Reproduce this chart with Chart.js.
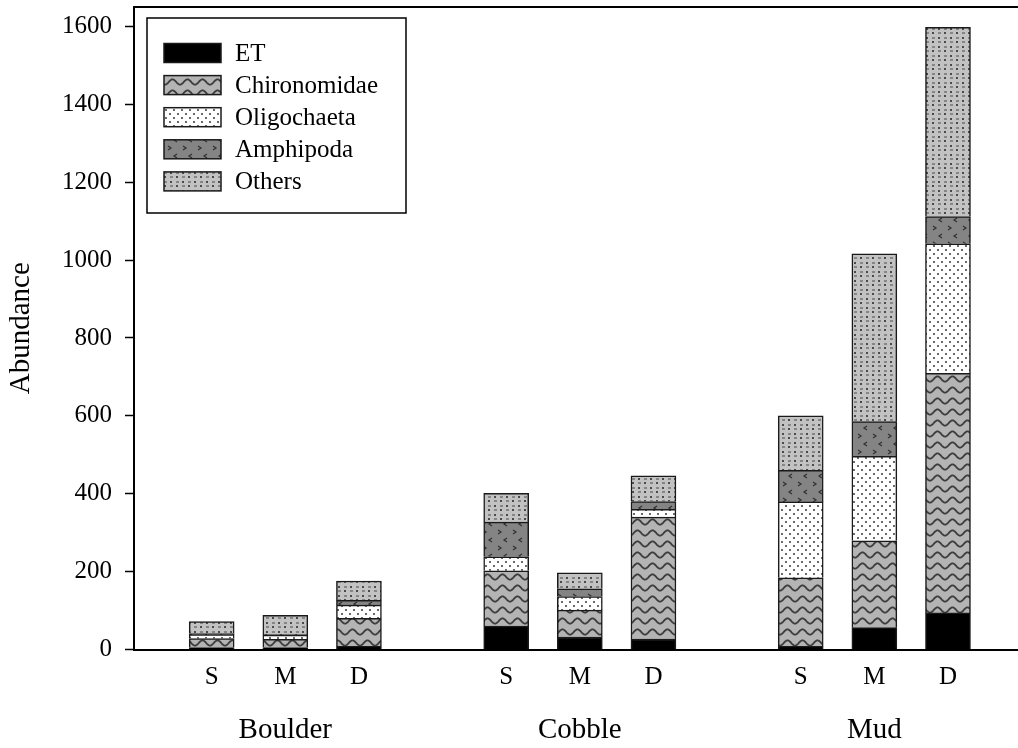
<!DOCTYPE html>
<html>
<head>
    <script src="https://cdn.jsdelivr.net/npm/chart.js@4.4.1/dist/chart.umd.min.js"></script>
    <title>Abundance by habitat and depth</title>
    <style>
        body { margin: 0; background: #fff; }
    </style>
</head>
<body>
    <canvas id="abundance" width="1018" height="748"></canvas>
    <script>
        // order in each series: Boulder S, M, D, Cobble S, M, D, Mud S, M, D
        const habitats = ['Boulder', 'Cobble', 'Mud'];
        const sites = ['S', 'M', 'D'];
        const taxa = ['ET', 'Chironomidae', 'Oligochaeta', 'Amphipoda', 'Others'];
        const et = [5, 5, 8, 60, 32, 27, 8, 56, 94];
        const chironomidae = [23, 21, 72, 142, 69, 313, 176, 223, 615];
        const oligochaeta = [10, 11, 34, 36, 35, 20, 195, 217, 333];
        const amphipoda = [3, 2, 12, 89, 20, 20, 81, 89, 70];
        const others = [31, 49, 50, 74, 41, 66, 140, 431, 486];
        const yTicks = [0, 200, 400, 600, 800, 1000, 1200, 1400, 1600];

        const serif = 'Liberation Serif, Times New Roman, serif';

        // one slot per site, an empty slot between habitats
        const slots = [];
        const slotLabels = [];
        habitats.forEach((h, hi) => sites.forEach((s, si) => {
            slots.push(hi * 4 + si + 1);
            slotLabels.push(s);
        }));
        const groupSlots = habitats.map((h, hi) => hi * 4 + 2);

        const makePattern = (w, h, paint) => {
            const c = document.createElement('canvas');
            c.width = w; c.height = h;
            const g = c.getContext('2d');
            paint(g, w, h);
            return g.createPattern(c, 'repeat');
        };

        const chiroFill = makePattern(15, 11, (g, w, h) => {
            g.fillStyle = '#b4b4b4';
            g.fillRect(0, 0, w, h);
            g.strokeStyle = '#3c3c3c';
            g.lineWidth = 1.8;
            g.beginPath();
            for (let x = -1; x <= w + 1; x += 0.5) {
                const y = 5 + 2.6 * Math.cos(2 * Math.PI * x / w);
                if (x === -1) g.moveTo(x, y); else g.lineTo(x, y);
            }
            g.stroke();
        });
        const oligoFill = makePattern(8, 8, (g, w, h) => {
            g.fillStyle = '#ffffff';
            g.fillRect(0, 0, w, h);
            g.fillStyle = '#6a6a6a';
            g.fillRect(1, 1, 2, 2);
            g.fillRect(5, 5, 2, 2);
        });
        const amphiFill = makePattern(15, 16, (g, w, h) => {
            g.fillStyle = '#848484';
            g.fillRect(0, 0, w, h);
            g.strokeStyle = '#303030';
            g.lineWidth = 1.2;
            g.beginPath();
            g.moveTo(3, 2); g.lineTo(6, 4); g.lineTo(3, 6);
            g.moveTo(12, 10); g.lineTo(9, 12); g.lineTo(12, 14);
            g.stroke();
        });
        const othersFill = makePattern(12, 9, (g, w, h) => {
            g.fillStyle = '#c2c2c2';
            g.fillRect(0, 0, w, h);
            g.fillStyle = '#4a4a4a';
            g.fillRect(2, 1, 2, 2);
            g.fillRect(8, 5, 2, 2);
            g.fillRect(8, 1.5, 3, 1);
            g.fillRect(2, 5.5, 3, 1);
        });

        const fills = ['#000000', chiroFill, oligoFill, amphiFill, othersFill];
        const series = [et, chironomidae, oligochaeta, amphipoda, others];

        const datasets = taxa.map((name, i) => ({
            label: name,
            data: series[i].map((v, j) => ({ x: slots[j], y: v })),
            backgroundColor: fills[i],
            borderColor: '#1a1a1a',
            borderWidth: 1.5,
            borderSkipped: 'start',
            barThickness: 45,
            xAxisID: 'x',
            yAxisID: 'y'
        }));

        const xMin = -0.055;
        const xMax = 11.951;

        const insideLegend = {
            id: 'insideLegend',
            afterDraw(chart) {
                const ctx = chart.ctx;
                ctx.save();
                ctx.strokeStyle = '#000';
                ctx.lineWidth = 1.5;
                ctx.strokeRect(147, 18, 259, 195);
                ctx.font = '25px ' + serif;
                ctx.textBaseline = 'middle';
                ctx.textAlign = 'left';
                chart.data.datasets.forEach((ds, i) => {
                    const cy = 53 + i * 32.1;
                    ctx.fillStyle = ds.backgroundColor;
                    ctx.fillRect(164, cy - 9.5, 57, 19);
                    ctx.strokeStyle = '#1a1a1a';
                    ctx.strokeRect(164, cy - 9.5, 57, 19);
                    ctx.fillStyle = '#000';
                    ctx.fillText(ds.label, 235, cy + 1);
                });
                ctx.restore();
            }
        };

        new Chart(document.getElementById('abundance').getContext('2d'), {
            type: 'bar',
            data: { datasets: datasets },
            options: {
                responsive: false,
                animation: false,
                devicePixelRatio: 1,
                layout: { padding: { top: 7, right: 0, bottom: 0, left: 0 } },
                plugins: {
                    legend: { display: false },
                    tooltip: { enabled: false }
                },
                scales: {
                    x: {
                        type: 'linear',
                        position: 'bottom',
                        stacked: true,
                        offset: false,
                        weight: 0,
                        min: xMin,
                        max: xMax,
                        grid: { display: false, drawTicks: false, offset: false },
                        border: { display: true, color: '#000', width: 2 },
                        afterBuildTicks: s => { s.ticks = slots.map(v => ({ value: v })); },
                        afterFit: s => { s.height = 50; s.paddingLeft = 0; s.paddingRight = 0; },
                        ticks: {
                            autoSkip: false,
                            maxRotation: 0,
                            padding: 13,
                            color: '#000',
                            font: { family: serif, size: 25 },
                            callback: (v, i) => slotLabels[i]
                        }
                    },
                    x3: {
                        type: 'linear',
                        position: 'bottom',
                        weight: 1,
                        offset: false,
                        min: xMin,
                        max: xMax,
                        grid: { display: false, drawTicks: false, offset: false },
                        border: { display: false },
                        afterBuildTicks: s => { s.ticks = groupSlots.map(v => ({ value: v })); },
                        afterFit: s => { s.height = 48.5; s.paddingLeft = 0; s.paddingRight = 0; },
                        ticks: {
                            autoSkip: false,
                            maxRotation: 0,
                            padding: 13,
                            color: '#000',
                            font: { family: serif, size: 29 },
                            callback: (v, i) => habitats[i]
                        }
                    },
                    xTop: {
                        type: 'linear',
                        position: 'top',
                        min: 0,
                        max: 1,
                        grid: { display: false, drawTicks: false },
                        ticks: { display: false },
                        border: { display: true, color: '#000', width: 2 },
                        afterFit: s => { s.height = 0; s.paddingLeft = 0; s.paddingRight = 0; }
                    },
                    y: {
                        type: 'linear',
                        position: 'left',
                        stacked: true,
                        min: 0,
                        max: 1650,
                        afterBuildTicks: s => { s.ticks = yTicks.map(v => ({ value: v })); },
                        afterFit: s => { s.width = 134; s.paddingTop = 0; s.paddingBottom = 0; },
                        grid: {
                            display: true,
                            drawOnChartArea: false,
                            drawTicks: true,
                            tickLength: 9,
                            tickWidth: 1.5,
                            tickColor: '#000'
                        },
                        border: { display: true, color: '#000', width: 2 },
                        ticks: {
                            padding: 13,
                            color: '#000',
                            font: { family: serif, size: 25 },
                            callback: v => String(v)
                        },
                        title: {
                            display: true,
                            text: 'Abundance',
                            color: '#000',
                            font: { family: serif, size: 29 },
                            padding: { top: 4, bottom: 4 }
                        }
                    }
                }
            },
            plugins: [insideLegend]
        });
    </script>
</body>
</html>
